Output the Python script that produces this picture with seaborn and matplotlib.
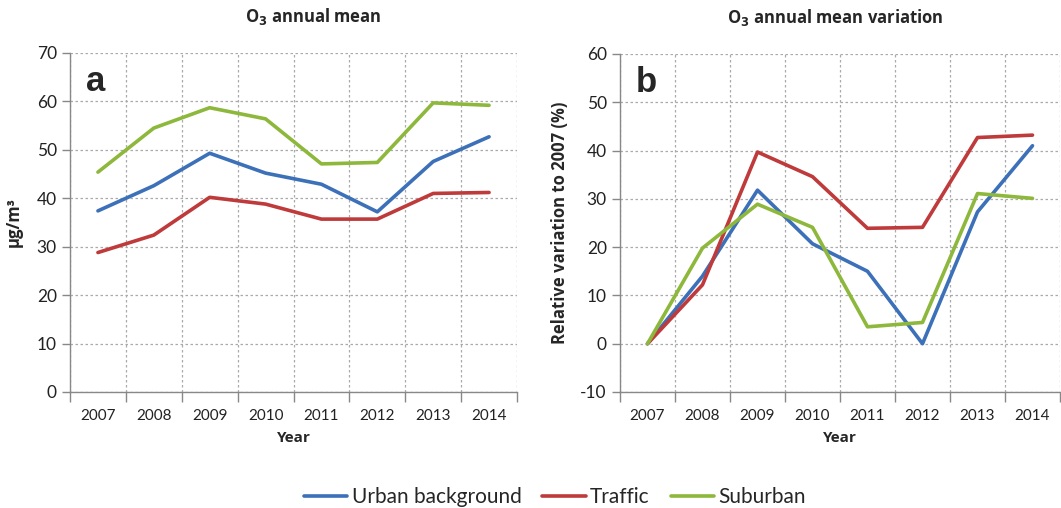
import numpy as np
import pandas as pd
import matplotlib
matplotlib.use("Agg")
import matplotlib.pyplot as plt
import seaborn as sns

years = ["2007", "2008", "2009", "2010", "2011", "2012", "2013", "2014"]
series_names = ["Urban background", "Traffic", "Suburban"]

mean_urban = [37.4, 42.6, 49.3, 45.2, 42.9, 37.2, 47.6, 52.7]
mean_traffic = [28.8, 32.4, 40.2, 38.8, 35.7, 35.7, 41.0, 41.2]
mean_suburban = [45.4, 54.5, 58.7, 56.4, 47.1, 47.4, 59.7, 59.2]

var_urban = [0.0, 14.0, 31.8, 20.7, 15.0, 0.0, 27.3, 41.0]
var_traffic = [0.0, 12.2, 39.7, 34.6, 23.9, 24.1, 42.7, 43.2]
var_suburban = [0.0, 19.8, 28.9, 24.1, 3.5, 4.4, 31.1, 30.1]

colors = {"Urban background": "#3C70B8", "Traffic": "#BE3A3B", "Suburban": "#8DB83C"}

def long_df(a, b, c):
    rows = []
    for name, vals in zip(series_names, [a, b, c]):
        for i, (y, v) in enumerate(zip(years, vals)):
            rows.append({"pos": i + 0.5, "year": y, "value": v, "series": name})
    return pd.DataFrame(rows)

df_a = long_df(mean_urban, mean_traffic, mean_suburban)
df_b = long_df(var_urban, var_traffic, var_suburban)

sns.set_theme(style="white")
plt.rcParams["font.family"] = ["Lato", "DejaVu Sans"]
plt.rcParams["axes.unicode_minus"] = False

fig = plt.figure(figsize=(10.61, 5.08), dpi=100)
ax1 = fig.add_axes([70/1061, 116/508, 447/1061, 339/508])
ax2 = fig.add_axes([620/1061, 116/508, 440/1061, 338/508])

def style(ax, ylim, yticks, title, ylabel, letter, title_x):
    ax.set_xlim(0, len(years))
    ax.set_ylim(*ylim)
    ax.set_yticks(yticks)
    ax.set_xticks(np.arange(0, len(years) + 1))
    ax.set_xticklabels([])
    ax.set_xticks(np.arange(len(years)) + 0.5, minor=True)
    ax.set_xticklabels(years, minor=True)
    ax.tick_params(axis="x", which="major", length=7, width=1, color="#888888", direction="out", bottom=True)
    ax.tick_params(axis="x", which="minor", length=0, pad=12, labelsize=11, labelcolor="#222222")
    ax.tick_params(axis="y", which="major", length=6, width=1, color="#888888", direction="out", left=True, labelsize=12.5, labelcolor="#222222")
    ax.grid(True, which="major", axis="both", linestyle=(0, (2, 2)), color="#aaaaaa", linewidth=0.9)
    for s in ["top", "right"]:
        ax.spines[s].set_visible(False)
    for s in ["left", "bottom"]:
        ax.spines[s].set_color("#888888")
        ax.spines[s].set_linewidth(1)
    ax.set_title(title, fontsize=12, fontweight="bold", pad=22, x=title_x, fontfamily=["Open Sans", "DejaVu Sans"])
    ax.set_ylabel(ylabel, fontsize=12, fontweight="bold", fontfamily=["Open Sans", "DejaVu Sans"])
    ax.set_xlabel("Year", fontsize=11, fontweight="bold", labelpad=6, fontfamily=["Open Sans", "DejaVu Sans"])
    ax.text(0.035, 0.965, letter, transform=ax.transAxes, fontsize=25, fontweight="bold",
            va="top", ha="left", fontfamily="Liberation Sans")
    ax.set_axisbelow(True)

sns.lineplot(data=df_a, x="pos", y="value", hue="series", palette=colors, linewidth=2.6, ax=ax1, legend=False)
sns.lineplot(data=df_b, x="pos", y="value", hue="series", palette=colors, linewidth=2.6, ax=ax2, legend=True)

style(ax1, (0, 70), np.arange(0, 71, 10), r"O$_\mathbf{3}$ annual mean", "µg/m³", "a", 0.545)
style(ax2, (-10, 60), np.arange(-10, 61, 10), r"O$_\mathbf{3}$ annual mean variation", "Relative variation to 2007 (%)", "b", 0.49)
ax1.yaxis.labelpad = 10
ax2.yaxis.labelpad = 8

handles, labels = ax2.get_legend_handles_labels()
ax2.get_legend().remove()
fig.legend(handles, labels, loc="center", bbox_to_anchor=(0.523, 0.022), ncol=3, frameon=False,
           fontsize=15, handlelength=2.1, handletextpad=0.2, columnspacing=1.0)

fig.savefig("out.png", dpi=100)
